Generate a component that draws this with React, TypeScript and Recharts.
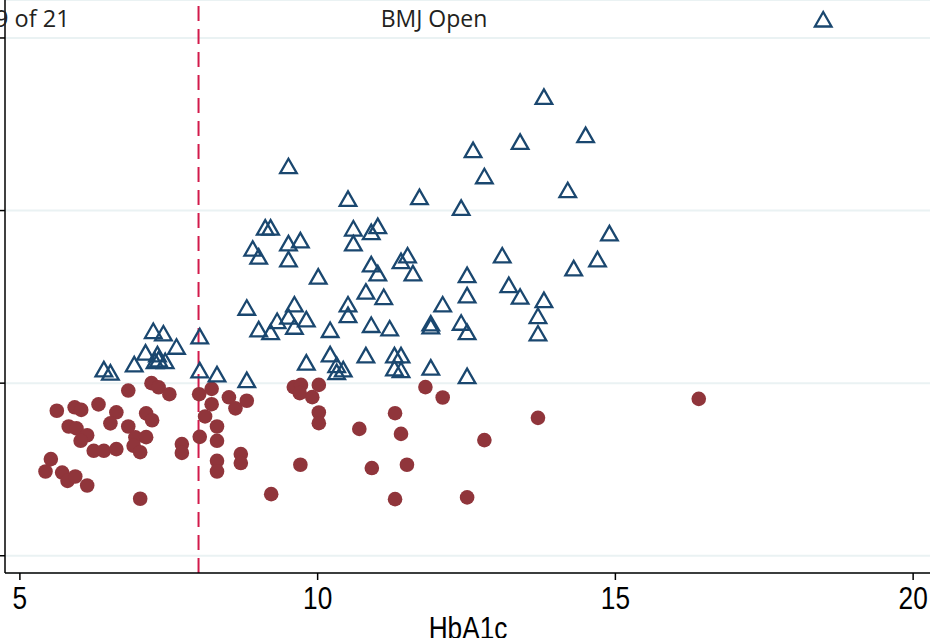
import { CartesianGrid, Label, ReferenceLine, Scatter, ScatterChart, XAxis, YAxis } from 'recharts';

// HbA1c values and outcome score (grid units 0..3)
const triangleHbA1c = [
    13.8, 14.5, 13.4, 12.61, 12.8, 14.2, 9.51, 10.51, 11.71, 12.41, 9.12, 9.21, 10.6, 10.9, 11.01, 10.6,
    9.51, 9.71, 8.91, 9.01, 9.51, 14.9, 13.1, 14.7, 14.3, 10.01, 10.9, 11.01, 11.4, 11.51, 11.6, 12.51,
    13.21, 13.4, 13.8, 12.51, 10.81, 11.11, 10.51, 10.51, 12.1, 13.7, 13.7, 8.81, 9.61, 9.51, 9.32, 9.81,
    9.61, 9.01, 9.21, 10.21, 10.9, 11.21, 11.9, 11.9, 12.41, 12.51, 10.21, 10.81, 10.32, 10.43, 10.32, 9.81,
    11.29, 11.4, 11.29, 11.4, 11.9, 12.51, 8.31, 8.81, 8.02, 8.02, 7.24, 7.41, 7.63, 7.11, 7.31, 7.33,
    7.44, 7.27, 6.92, 6.41, 6.52, 18.49,
];
const triangleScore = [
    2.656, 2.434, 2.395, 2.347, 2.196, 2.115, 2.254, 2.065, 2.075, 2.013, 1.898, 1.898, 1.893, 1.872, 1.907, 1.807,
    1.807, 1.824, 1.776, 1.73, 1.714, 1.865, 1.737, 1.714, 1.662, 1.614, 1.685, 1.633, 1.704, 1.737, 1.633, 1.623,
    1.565, 1.498, 1.478, 1.506, 1.527, 1.496, 1.453, 1.391, 1.453, 1.386, 1.285, 1.434, 1.453, 1.382, 1.357, 1.367,
    1.324, 1.309, 1.293, 1.305, 1.334, 1.314, 1.343, 1.326, 1.347, 1.293, 1.164, 1.158, 1.102, 1.077, 1.061, 1.116,
    1.158, 1.158, 1.083, 1.073, 1.087, 1.038, 1.048, 1.015, 1.071, 1.268, 1.299, 1.285, 1.208, 1.174, 1.164, 1.135,
    1.125, 1.125, 1.106, 1.077, 1.058, 3.104,
];

const circleHbA1c = [
    6.82, 7.21, 7.33, 7.51, 5.62, 5.92, 6.03, 6.32, 6.62, 6.52, 6.82, 7.12, 7.22, 5.82, 5.95, 6.13,
    6.02, 6.94, 7.12, 6.91, 7.02, 6.24, 6.41, 6.62, 5.52, 5.43, 5.71, 5.8, 5.93, 6.13, 7.02, 7.72,
    7.72, 8.01, 8.22, 8.22, 8.11, 8.02, 8.31, 8.31, 8.31, 8.31, 8.51, 8.62, 8.81, 8.71, 8.71, 9.22,
    9.71, 9.6, 9.72, 9.7, 9.91, 10.02, 10.02, 10.02, 10.7, 10.91, 11.3, 11.4, 11.3, 11.5, 11.81, 12.1,
    12.51, 12.8, 13.7, 16.4,
];
const circleScore = [
    0.957, 1.0, 0.976, 0.936, 0.84, 0.86, 0.845, 0.877, 0.831, 0.767, 0.749, 0.825, 0.785, 0.749, 0.738, 0.698,
    0.666, 0.686, 0.687, 0.637, 0.6, 0.608, 0.608, 0.618, 0.56, 0.488, 0.482, 0.434, 0.459, 0.407, 0.33, 0.647,
    0.596, 0.936, 0.967, 0.878, 0.807, 0.689, 0.749, 0.666, 0.55, 0.488, 0.918, 0.854, 0.898, 0.589, 0.537, 0.357,
    0.527, 0.977, 0.99, 0.942, 0.919, 0.99, 0.83, 0.768, 0.735, 0.508, 0.826, 0.706, 0.328, 0.527, 0.977, 0.917,
    0.338, 0.67, 0.799, 0.909,
];

const xTicks = [5, 10, 15, 20];
const yTicks = [0, 1, 2, 3];
const cutoff = 8;

const triangles = triangleHbA1c.map((x, i) => ({ x, y: triangleScore[i] }));
const circles = circleHbA1c.map((x, i) => ({ x, y: circleScore[i] }));

const NAVY = '#1a476f';
const CRANBERRY = '#90353b';
const arial = "'Liberation Sans', Arial, sans-serif";
const header = "'Open Sans', 'Noto Sans', sans-serif";

function Triangle(props: any) {
    const { cx, cy } = props;
    const w = 8.3;
    return (
        <polygon
            points={`${cx},${cy - 8} ${cx + w},${cy + 6.5} ${cx - w},${cy + 6.5}`}
            fill="none"
            stroke={NAVY}
            strokeWidth={2.3}
        />
    );
}

function Dot(props: any) {
    const { cx, cy } = props;
    return <circle cx={cx} cy={cy} r={7.3} fill={CRANBERRY} />;
}

// Stata draws axis text in a narrow face; squeeze Liberation Sans to match
function NarrowTick(props: any) {
    const { x, y, payload } = props;
    return (
        <text
            transform={`translate(${x},${y}) scale(0.82,1)`}
            dy="0.71em"
            textAnchor="middle"
            fontSize={32}
            fontFamily={arial}
            fill="#000"
        >
            {payload.value}
        </text>
    );
}

function AxisTitle(props: any) {
    const { viewBox } = props;
    const cx = viewBox.x + viewBox.width / 2;
    const by = viewBox.y + viewBox.height + 1;
    return (
        <text transform={`translate(${cx},${by}) scale(0.82,1)`} textAnchor="middle" fontSize={32} fontFamily={arial} fill="#000">
            HbA1c
        </text>
    );
}

export default function App() {
    return (
        <div style={{ position: 'absolute', left: 0, top: 0, width: 930, height: 638, overflow: 'hidden', background: '#fff' }}>
            <div style={{ position: 'absolute', left: -55, top: 0 }}>
                <ScatterChart width={1000} height={638} margin={{ top: 0, right: 14, bottom: 0, left: 0 }}>
                    <CartesianGrid vertical={false} stroke="#eaf2f3" strokeWidth={2} />
                    <XAxis
                        type="number"
                        dataKey="x"
                        domain={[4.75, 20.3]}
                        ticks={xTicks}
                        allowDataOverflow
                        height={65}
                        stroke="#000"
                        strokeWidth={1.5}
                        tickSize={7}
                        tickMargin={6}
                        tick={<NarrowTick />}
                    >
                        <Label content={<AxisTitle />} />
                    </XAxis>
                    <YAxis
                        type="number"
                        dataKey="y"
                        domain={[-0.1, 3.22]}
                        ticks={yTicks}
                        allowDataOverflow
                        width={60}
                        stroke="#000"
                        strokeWidth={1.5}
                        tickSize={5}
                        tickFormatter={() => ''}
                    />
                    <ReferenceLine x={cutoff} stroke="#d21a4b" strokeWidth={2} strokeDasharray="15 8" />
                    <Scatter data={circles} shape={Dot} isAnimationActive={false} />
                    <Scatter data={triangles} shape={Triangle} isAnimationActive={false} />
                </ScatterChart>
            </div>
            <div style={{ position: 'absolute', left: -5, top: 3, fontFamily: header, fontSize: 23.5, color: '#231f20', lineHeight: '30px' }}>
                9 of 21
            </div>
            <div style={{ position: 'absolute', left: 334, width: 200, top: 3, textAlign: 'center', fontFamily: header, fontSize: 23, color: '#231f20', lineHeight: '30px' }}>
                BMJ Open
            </div>
        </div>
    );
}
